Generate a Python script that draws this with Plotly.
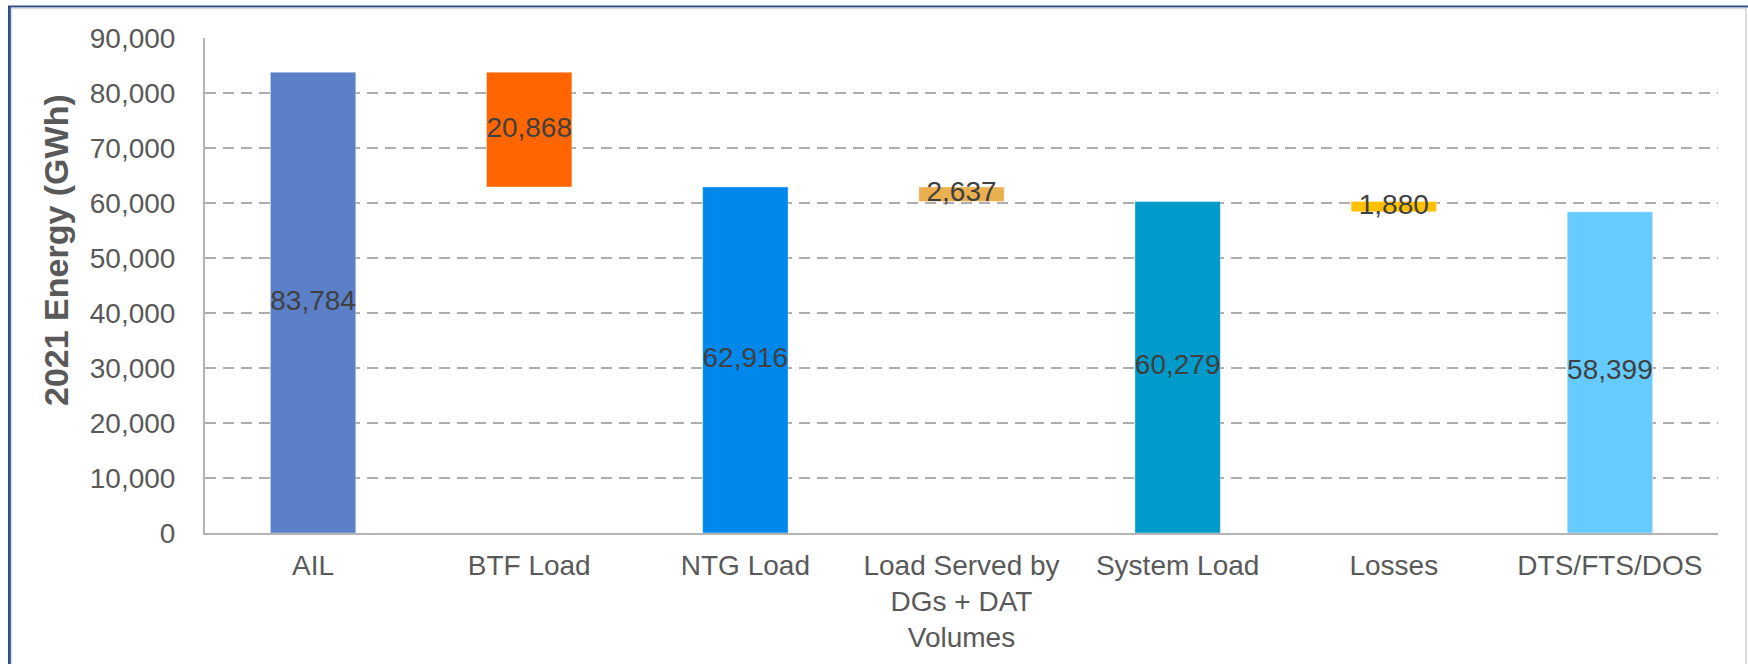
import plotly.graph_objects as go

# ---- data ----
categories = ["AIL", "BTF Load", "NTG Load", "Load Served by<br>DGs + DAT<br>Volumes",
              "System Load", "Losses", "DTS/FTS/DOS"]
values = [83784, 20868, 62916, 2637, 60279, 1880, 58399]
kinds = ["total", "decrease", "total", "decrease", "total", "decrease", "total"]
colors = ["#5B80C8", "#FF6600", "#0088EC", "#EAB050", "#009ACB", "#FFC000", "#66CCFF"]
y_ticks = [0, 10000, 20000, 30000, 40000, 50000, 60000, 70000, 80000, 90000]
y_title = "2021 Energy (GWh)"

# bases: decrease bars float down from the previous total
bases = []
running = 0
for v, k in zip(values, kinds):
    if k == "total":
        bases.append(0)
        running = v
    else:
        running = running - v
        bases.append(running)
mids = [b + v / 2 for b, v in zip(bases, values)]
labels = [f"{v:,}" for v in values]

W, H = 1748, 664
L, R, T, B = 205, 1718, 38, 533

fig = go.Figure()
fig.add_trace(go.Bar(
    x=categories, y=values, base=bases,
    marker=dict(color=colors, line=dict(color="rgba(255,255,255,0.35)", width=1)),
    width=0.395, hoverinfo="skip", showlegend=False,
))
fig.add_trace(go.Scatter(
    x=categories, y=mids, text=labels, mode="text",
    textposition="middle center",
    textfont=dict(family="Liberation Sans, Arial", size=28, color="#404040"),
    hoverinfo="skip", showlegend=False,
))

def px_x(p):
    return (p - L) / (R - L)

def px_y(p):
    return (B - p) / (B - T)

shapes = [
    # outer frame: blue on left/top, light grey inner
    dict(type="line", xref="paper", yref="paper", x0=px_x(9.5), x1=px_x(9.5), y0=px_y(H + 5), y1=px_y(6),
         line=dict(color="#2E4E8C", width=3)),
    dict(type="line", xref="paper", yref="paper", x0=px_x(8), x1=px_x(W + 5), y0=px_y(6.5), y1=px_y(6.5),
         line=dict(color="#2E4E8C", width=2)),
    dict(type="line", xref="paper", yref="paper", x0=px_x(11.5), x1=px_x(11.5), y0=px_y(H + 5), y1=px_y(8),
         line=dict(color="#DCDCDC", width=1.5)),
    dict(type="line", xref="paper", yref="paper", x0=px_x(11), x1=px_x(W - 3), y0=px_y(8.5), y1=px_y(8.5),
         line=dict(color="#DCDCDC", width=1.5)),
    dict(type="line", xref="paper", yref="paper", x0=px_x(W - 2), x1=px_x(W - 2), y0=px_y(H + 5), y1=px_y(8),
         line=dict(color="#DCDCDC", width=2)),
]

annotations = [
    dict(text=f"<b>{y_title}</b>", xref="paper", yref="paper",
         x=px_x(56), y=px_y(250), xanchor="center", yanchor="middle",
         textangle=-90, showarrow=False,
         font=dict(family="Liberation Sans, Arial", size=34, color="#595959")),
]

fig.update_layout(
    width=W, height=H,
    margin=dict(l=L, r=W - R, t=T, b=H - B, autoexpand=False),
    paper_bgcolor="white", plot_bgcolor="white",
    font=dict(family="Liberation Sans, Arial", size=28, color="#595959"),
    bargap=0.6,
    shapes=shapes,
    annotations=annotations,
    xaxis=dict(
        showline=True, linecolor="#B4B4B4", linewidth=2,
        showgrid=False, ticks="", tickfont=dict(size=28, color="#595959"),
        ticklabelstandoff=6, automargin=False,
    ),
    yaxis=dict(
        range=[0, 90000], tickvals=y_ticks, tickformat=",d",
        showline=True, linecolor="#B4B4B4", linewidth=2,
        showgrid=True, gridcolor="#B0ACAC", gridwidth=2, griddash="11px,7px",
        zeroline=False, ticks="", tickfont=dict(size=28, color="#595959"),
        ticklabelstandoff=22, automargin=False,
    ),
)

fig.write_html(
    "out.html",
    config={"displayModeBar": False},
    post_script="document.body.style.margin='0';document.body.style.overflow='hidden';",
)
